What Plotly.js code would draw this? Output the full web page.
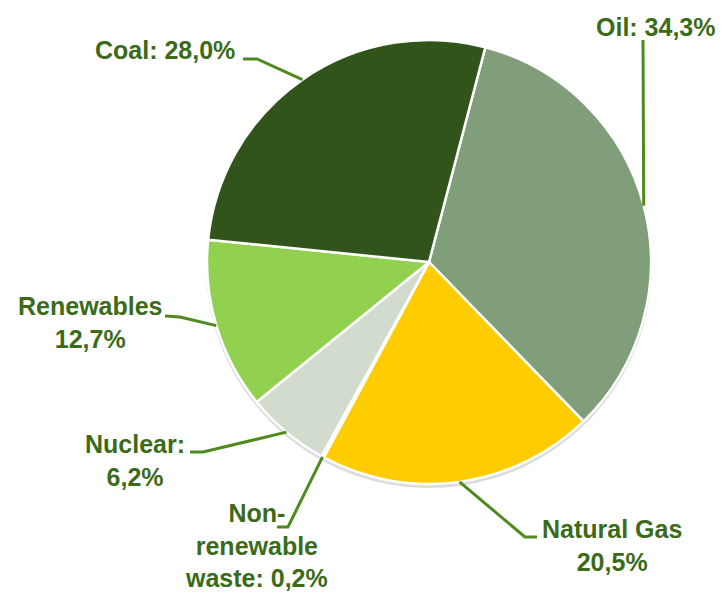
<!DOCTYPE html>
<html>
<head>
<meta charset="utf-8">
<script src="https://cdn.plot.ly/plotly-3.0.1.min.js"></script>
<style>
  html, body { margin: 0; padding: 0; background: #ffffff; }
  #chart { width: 722px; height: 593px; }
</style>
</head>
<body>
<div id="chart"></div>
<script>
// ---- data ----
const categories = ["Oil", "Natural Gas", "Non-renewable waste", "Nuclear", "Renewables", "Coal"];
const shares = [34.3, 20.5, 0.2, 6.2, 12.7, 28.0];
const labelTexts = [
  "Oil: 34,3%",
  "Natural Gas<br>20,5%",
  "Non-<br>renewable<br>waste: 0,2%",
  "Nuclear:<br>6,2%",
  "Renewables<br>12,7%",
  "Coal: 28,0%"
];

// ---- styles / layout (pixels) ----
const colors = ["#7f9e79", "#ffcc00", "#c9d4c5", "#d1dccf", "#92d050", "#31541a"];
const W = 722, H = 593;
const CX = 429, CY = 262, R = 222;
const ROTATION = 14.7;
// text block centres
const labelPos = [[656, 27], [612, 545], [256, 545], [135, 460], [90, 322], [165, 50]];
// leader line elbows and ends
const elbowPos = [[643, 40], [525, 537], [288, 527], [203, 452], [180, 317], [257, 59]];
const endPos   = [[643, 40], [537, 537], [277, 527], [190, 452], [165, 316], [243, 59]];
const textColor = "#3b6b18";
const lineColor = "#4e8a1e";

const px = x => x / W;
const py = y => 1 - y / H;

const domain = { x: [px(CX - R), px(CX + R)], y: [py(CY + R), py(CY - R)] };
const shadowDomain = { x: [px(CX - R - 1), px(CX + R + 1)], y: [py(CY + R + 4), py(CY - R + 2)] };

const shadow = {
  type: "pie", values: shares, labels: categories, sort: false,
  direction: "clockwise", rotation: ROTATION, domain: shadowDomain,
  marker: { colors: categories.map(() => "#dcdcdc"), line: { width: 0 } },
  textinfo: "none", hoverinfo: "skip", showlegend: false
};

const pie = {
  type: "pie", values: shares, labels: categories, sort: false,
  direction: "clockwise", rotation: ROTATION, domain: domain,
  marker: { colors: colors, line: { color: "#ffffff", width: 2.5 } },
  textinfo: "none", hoverinfo: "label+percent", showlegend: false
};

// anchor points at slice mid-angles on the rim, derived from the data
const total = shares.reduce((a, b) => a + b, 0);
let acc = 0;
const anchors = shares.map(v => {
  const mid = ROTATION + (acc + v / 2) / total * 360;
  acc += v;
  const t = mid * Math.PI / 180;
  return [CX + R * Math.sin(t), CY - R * Math.cos(t)];
});

const shapes = anchors.map((a, i) => ({
  type: "path", xref: "paper", yref: "paper",
  path: `M ${px(a[0])},${py(a[1])} L ${px(elbowPos[i][0])},${py(elbowPos[i][1])} L ${px(endPos[i][0])},${py(endPos[i][1])}`,
  line: { color: lineColor, width: 3 }
}));

const annotations = labelTexts.map((t, i) => ({
  xref: "paper", yref: "paper", x: px(labelPos[i][0]), y: py(labelPos[i][1]),
  xanchor: "center", yanchor: "middle", align: "center",
  text: t, showarrow: false,
  font: { family: "Liberation Sans, Arial, sans-serif", size: 25, color: textColor, weight: "bold" }
}));

Plotly.newPlot("chart", [shadow, pie], {
  width: W, height: H,
  margin: { l: 0, r: 0, t: 0, b: 0 },
  paper_bgcolor: "#ffffff",
  showlegend: false,
  shapes: shapes,
  annotations: annotations
}, { displayModeBar: false, staticPlot: true });
</script>
</body>
</html>
